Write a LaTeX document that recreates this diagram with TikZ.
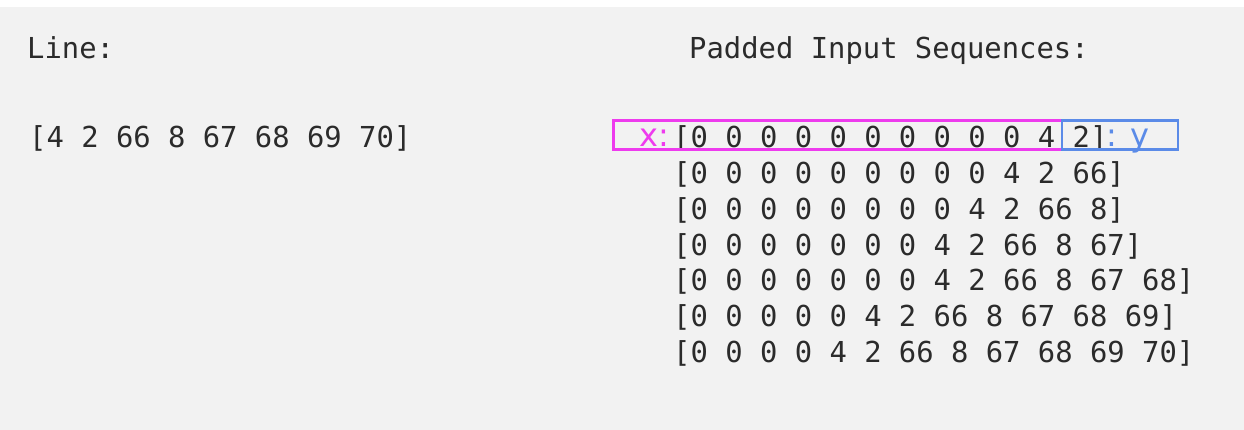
\documentclass[tikz,border=0pt]{standalone}
\usepackage{fontspec}
\newfontfamily\monofont{DejaVu Sans Mono}
\newfontfamily\labfont{DejaVu Sans}
\definecolor{bg}{HTML}{F2F2F2}
\definecolor{txt}{HTML}{2B2B2B}
\definecolor{xmag}{HTML}{EE3BEE}
\definecolor{yblue}{HTML}{5B8BE8}
\tikzset{
  mono/.style={anchor=base west, inner sep=0pt, text=txt, font=\monofont\fontsize{28.85}{34}\selectfont},
  lab/.style={inner sep=0pt, font=\labfont\fontsize{32}{36}\selectfont},
  hbox/.style={line width=2.2pt}
}
\begin{document}
\begin{tikzpicture}[x=1pt,y=-1pt]
\useasboundingbox (0,0) rectangle (1244,430);
\fill[white] (0,0) rectangle (1244,430);
\fill[bg] (0,7) rectangle (1244,430);
\node[mono] (line) at (27,59) {Line:};
\node[mono] (arr) at (29,148) {[4 2 66 8 67 68 69 70]};
\node[mono] (pad) at (689,59) {Padded Input Sequences:};
\node[mono] (r1) at (673,148.0) {[0 0 0 0 0 0 0 0 0 0 4 2]};
\node[mono] (r2) at (673,183.7) {[0 0 0 0 0 0 0 0 0 4 2 66]};
\node[mono] (r3) at (673,219.4) {[0 0 0 0 0 0 0 0 4 2 66 8]};
\node[mono] (r4) at (673,255.1) {[0 0 0 0 0 0 0 4 2 66 8 67]};
\node[mono] (r5) at (673,290.8) {[0 0 0 0 0 0 0 4 2 66 8 67 68]};
\node[mono] (r6) at (673,326.5) {[0 0 0 0 0 4 2 66 8 67 68 69]};
\node[mono] (r7) at (673,362.2) {[0 0 0 0 4 2 66 8 67 68 69 70]};
\node[lab, text=xmag, anchor=base east] (xl) at (669,147) {x:};
\node[lab, text=yblue, anchor=base west] (yl) at (1106,147) {: y};
\draw[hbox, xmag] (613.5,120.5) rectangle (1062,149.5);
\draw[hbox, yblue] (1062,120.5) rectangle (1178,149.5);
\end{tikzpicture}
\end{document}
